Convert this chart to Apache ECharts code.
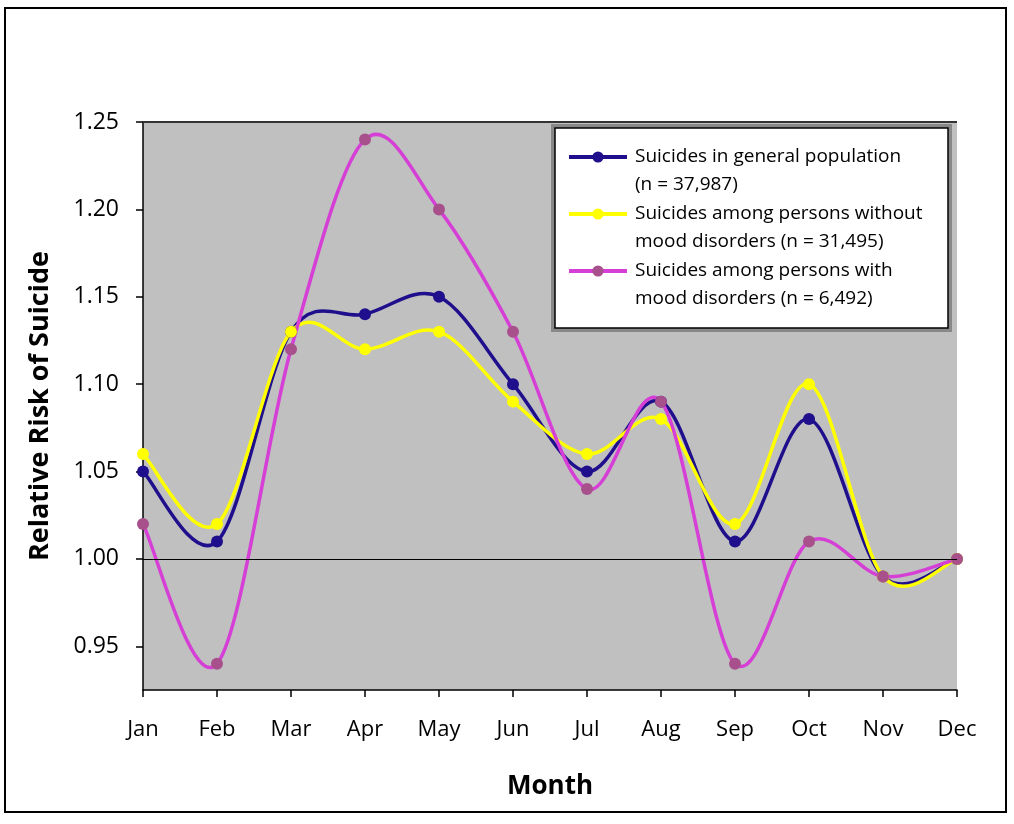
<!DOCTYPE html>
<html>
<head>
<meta charset="utf-8">
<script src="https://cdn.jsdelivr.net/npm/echarts@6/dist/echarts.min.js"></script>
<style>
html,body{margin:0;padding:0;background:#fff;}
#chart{width:1014px;height:824px;}
</style>
</head>
<body>
<div id="chart"></div>
<script>
const months = ['Jan','Feb','Mar','Apr','May','Jun','Jul','Aug','Sep','Oct','Nov','Dec'];
const generalPop = [1.05, 1.01, 1.13, 1.14, 1.15, 1.10, 1.05, 1.09, 1.01, 1.08, 0.99, 1.00];
const withoutMood = [1.06, 1.02, 1.13, 1.12, 1.13, 1.09, 1.06, 1.08, 1.02, 1.10, 0.99, 1.00];
const withMood = [1.02, 0.94, 1.12, 1.24, 1.20, 1.13, 1.04, 1.09, 0.94, 1.01, 0.99, 1.00];
const yTicks = [0.95, 1.00, 1.05, 1.10, 1.15, 1.20, 1.25];
const seriesNames = [
  'Suicides in general population\n(n = 37,987)',
  'Suicides among persons without\nmood disorders (n = 31,495)',
  'Suicides among persons with\nmood disorders (n = 6,492)'
];

const FONT = 'Open Sans';
const chart = echarts.init(document.getElementById('chart'), null, {renderer: 'canvas'});

// Smooth curve (Excel-like Catmull-Rom) drawn through the axis scales
function curveSeries(values, color, z) {
  const n = values.length;
  return {
    type: 'custom',
    z: z,
    silent: true,
    animation: false,
    clip: false,
    encode: {x: 0, y: 1},
    data: values.map(function (v, i) { return [i, v]; }),
    renderItem: function (params, api) {
      const i = params.dataIndex;
      if (i >= n - 1) return null;
      const pt = function (k) {
        const kk = Math.max(0, Math.min(n - 1, k));
        return api.coord([kk, values[kk]]);
      };
      const p0 = pt(i - 1), p1 = pt(i), p2 = pt(i + 1), p3 = pt(i + 2);
      return {
        type: 'bezierCurve',
        shape: {
          x1: p1[0], y1: p1[1], x2: p2[0], y2: p2[1],
          cpx1: p1[0] + (p2[0] - p0[0]) / 6, cpy1: p1[1] + (p2[1] - p0[1]) / 6,
          cpx2: p2[0] - (p3[0] - p1[0]) / 6, cpy2: p2[1] - (p3[1] - p1[1]) / 6
        },
        style: {fill: 'none', stroke: color, lineWidth: 3.5, lineCap: 'round'}
      };
    }
  };
}

function markerSeries(name, data, markerColor, z) {
  return {
    name: name,
    type: 'line',
    data: data,
    z: z,
    symbol: 'circle',
    symbolSize: 12,
    showAllSymbol: true,
    lineStyle: {opacity: 0},
    itemStyle: {color: markerColor},
    emphasis: {disabled: true},
    animation: false
  };
}

const lineColors = ['#1f0f8c', '#ffff00', '#d63fd6'];
const markerColors = ['#1f0f8c', '#ffff00', '#a8508c'];

chart.setOption({
  backgroundColor: '#ffffff',
  animation: false,
  grid: {left: 143, top: 122, width: 814, height: 568, show: true, backgroundColor: '#c0c0c0', borderWidth: 0},
  graphic: [
    {type: 'rect', shape: {x: 5, y: 8, width: 1001, height: 804}, style: {fill: 'none', stroke: '#000', lineWidth: 2}, z: -10},
    {type: 'rect', shape: {x: 553, y: 126, width: 397, height: 204}, style: {fill: '#fff', stroke: '#888', lineWidth: 4}, z: 5},
    {type: 'rect', shape: {x: 555, y: 128, width: 393, height: 200}, style: {fill: '#fff', stroke: '#000', lineWidth: 1.5}, z: 6}
  ],
  legend: {
    show: true,
    orient: 'vertical',
    left: 567,
    top: 115,
    padding: 0,
    itemWidth: 58,
    itemHeight: 14,
    itemGap: -27,
    z: 10,
    selectedMode: false,
    formatter: function (n) { return '\n' + n; },
    textStyle: {fontFamily: FONT, fontSize: 19, color: '#000', lineHeight: 28, padding: [0, 0, 0, 3]},
    data: seriesNames.map(function (nm, i) {
      return {name: nm, itemStyle: {color: markerColors[i]},
        lineStyle: {color: lineColors[i], width: 4, opacity: 1}};
    })
  },
  xAxis: {
    type: 'category',
    data: months,
    boundaryGap: false,
    axisLine: {show: true, lineStyle: {color: '#000', width: 1.5}},
    axisTick: {show: true, alignWithLabel: true, length: 7, lineStyle: {color: '#000', width: 1.5}},
    axisLabel: {fontFamily: FONT, fontSize: 22, color: '#000', margin: 29},
    splitLine: {show: false},
    name: 'Month',
    nameLocation: 'middle',
    nameGap: 84,
    nameTextStyle: {fontFamily: FONT, fontSize: 26, fontWeight: 'bold', color: '#000'}
  },
  yAxis: {
    type: 'value',
    min: 0.925,
    max: 1.25,
    axisLine: {show: true, lineStyle: {color: '#000', width: 1.5}},
    axisTick: {show: true, length: 7, customValues: yTicks, lineStyle: {color: '#000', width: 1.5}},
    axisLabel: {fontFamily: FONT, fontSize: 23, color: '#000', margin: 24, customValues: yTicks,
      formatter: function (v) { return v.toFixed(2); }},
    splitLine: {show: false},
    name: 'Relative Risk of Suicide',
    nameLocation: 'middle',
    nameGap: 89,
    nameTextStyle: {fontFamily: FONT, fontSize: 27, fontWeight: 'bold', color: '#000'}
  },
  series: [
    {
      type: 'line', data: [], z: 1, silent: true, animation: false,
      markLine: {
        silent: true, symbol: 'none', label: {show: false}, animation: false,
        lineStyle: {color: '#000', width: 1, type: 'solid'},
        data: [{yAxis: 1.0}, {yAxis: 1.25, lineStyle: {color: '#333', width: 2}}]
      }
    },
    curveSeries(generalPop, lineColors[0], 2),
    curveSeries(withoutMood, lineColors[1], 2),
    curveSeries(withMood, lineColors[2], 2),
    markerSeries(seriesNames[0], generalPop, markerColors[0], 3),
    markerSeries(seriesNames[1], withoutMood, markerColors[1], 3),
    markerSeries(seriesNames[2], withMood, markerColors[2], 3)
  ]
});
</script>
</body>
</html>
